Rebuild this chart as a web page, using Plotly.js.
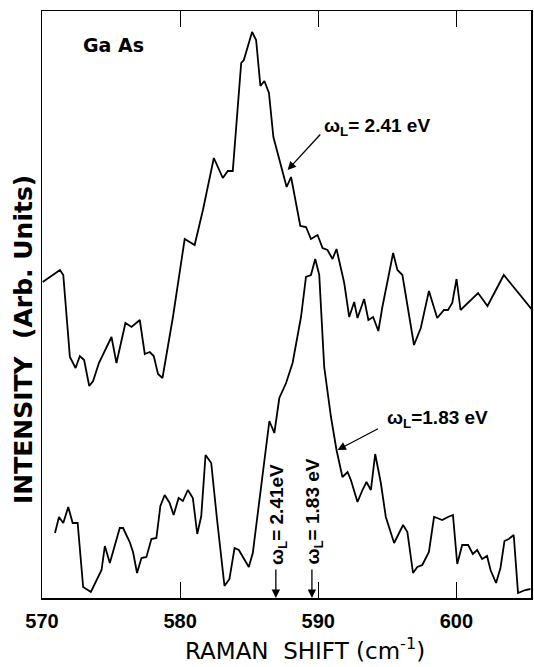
<!DOCTYPE html>
<html>
<head>
<meta charset="utf-8">
<script src="https://cdn.plot.ly/plotly-3.0.1.min.js"></script>
<style>html,body{margin:0;padding:0;background:#fff;}#chart{width:534px;height:667px;}</style>
</head>
<body>
<div id="chart"></div>
<script>
// Upper spectrum, laser 2.41 eV
const shiftUpper = [570.05,571.30,571.54,572.02,572.43,572.74,573.05,573.42,573.70,574.12,575.03,575.39,576.04,576.48,577.08,577.44,577.80,578.09,578.40,578.72,579.48,579.73,580.20,580.33,581.05,581.65,582.44,583.09,583.45,583.81,584.42,584.61,585.21,585.50,585.81,586.10,586.43,586.75,587.71,588.03,588.70,589.11,589.47,589.95,590.31,590.67,591.03,591.32,591.88,592.24,592.60,592.84,593.32,593.63,593.97,594.35,594.64,595.42,595.73,596.09,596.93,597.42,598.01,598.61,599.10,599.39,599.70,600.01,600.30,601.57,602.25,603.43,605.43];
const intUpper = [316,328,323,241,230,242,238,212,217,235,261,235,275,271,278,244,246,242,224,220,281,303,348,359,353,388,440,420,427,427,535,538,566,558,512,517,505,461,411,421,372,371,359,363,350,348,339,349,315,281,296,280,299,278,281,267,291,345,328,323,253,270,307,280,288,288,295,319,288,305,292,323,289];
// Lower spectrum, laser 1.83 eV
const shiftLower = [570.94,571.23,571.54,571.90,572.22,572.58,572.98,573.54,574.31,574.55,574.91,575.63,575.87,576.35,576.59,576.88,577.20,577.56,577.92,578.28,578.57,578.88,579.24,579.53,579.89,580.20,580.56,580.92,581.24,581.53,581.84,582.25,582.66,583.21,583.57,583.94,584.25,584.97,585.26,586.46,586.82,587.18,587.67,588.14,588.75,589.11,589.47,589.78,590.07,590.43,590.92,591.32,591.75,592.12,592.36,592.84,593.20,593.49,593.81,594.12,594.53,594.89,595.49,596.14,596.45,596.86,597.17,597.53,598.01,598.38,598.61,598.97,599.39,599.75,600.06,600.42,600.85,601.19,601.50,601.86,602.22,602.47,602.87,603.19,603.48,603.79,604.15,604.46,604.99,605.36];
const intLower = [65,81,75,91,75,75,11,6,28,52,35,70,70,56,46,25,40,41,59,60,92,103,95,83,100,97,108,100,64,82,143,135,80,12,19,50,48,31,45,177,165,200,215,235,281,321,323,339,323,231,181,148,121,126,118,96,108,116,108,144,115,81,55,73,66,25,31,33,46,81,80,78,81,83,34,53,53,44,48,39,42,28,15,30,57,59,63,5,8,9];
const xTicks = [570,580,590,600];
const xTickText = ['570','580','590','600'];
const laserMarks = [586.93, 589.54];
const laserLabels = ['ω<sub>L</sub>= 2.41eV', 'ω<sub>L</sub>= 1.83 eV'];
const curveLabels = ['ω<sub>L</sub>= 2.41 eV', 'ω<sub>L</sub>=1.83 eV'];
const sampleLabel = 'Ga As';
const xTitle = 'RAMAN  SHIFT (cm<sup>-1</sup>)';
const yTitle = 'INTENSITY  (Arb. Units)';

const fontLib = 'Liberation Sans, Arial, sans-serif';
const fontDV = 'DejaVu Sans, sans-serif';
const black = '#000';
const traces = [
  {x: shiftUpper, y: intUpper, mode: 'lines', line: {color: black, width: 1.8}, hoverinfo: 'skip'},
  {x: shiftLower, y: intLower, mode: 'lines', line: {color: black, width: 1.8}, hoverinfo: 'skip'}
];
const arrowStyle = {showarrow: true, arrowhead: 2, arrowsize: 1.3, arrowwidth: 1.3, arrowcolor: black, text: ''};
const annotations = [
  {x: 0.147, y: 0.942, xref: 'paper', yref: 'paper', text: '<b>' + sampleLabel + '</b>', showarrow: false, font: {family: fontDV, size: 19, color: black}, xanchor: 'center', yanchor: 'middle'},
  // curve label arrows
  Object.assign({x: 587.78, y: 428, xref: 'x', yref: 'y', ax: 34, ay: -37}, arrowStyle),
  {x: 590.29, y: 471, xref: 'x', yref: 'y', text: '<b>' + curveLabels[0] + '</b>', showarrow: false, xanchor: 'left', yanchor: 'middle', font: {family: fontLib, size: 19, color: black}},
  Object.assign({x: 591.39, y: 148, xref: 'x', yref: 'y', ax: 42, ay: -22}, arrowStyle),
  {x: 594.85, y: 179, xref: 'x', yref: 'y', text: '<b>' + curveLabels[1] + '</b>', showarrow: false, xanchor: 'left', yanchor: 'middle', font: {family: fontLib, size: 19, color: black}},
  // axis titles
  {x: 0.538, y: -0.087, xref: 'paper', yref: 'paper', text: xTitle, showarrow: false, xanchor: 'center', yanchor: 'middle', font: {family: fontDV, size: 23, color: black}},
  {x: -0.039, y: 0.441, xref: 'paper', yref: 'paper', text: '<b>' + yTitle + '</b>', textangle: -90, showarrow: false, xanchor: 'center', yanchor: 'middle', font: {family: fontDV, size: 25, color: black}}
];
laserMarks.forEach((m, i) => {
  annotations.push(Object.assign({x: m, y: 0, xref: 'x', yref: 'y', ax: 0, ay: -30}, arrowStyle));
  annotations.push({x: m + 0.12, y: 31, xref: 'x', yref: 'y', text: '<b>' + laserLabels[i] + '</b>', textangle: -90, showarrow: false, xanchor: 'center', yanchor: 'bottom', font: {family: fontLib, size: 19, color: black}});
});

const layout = {
  width: 534, height: 667,
  margin: {l: 42, r: 3, t: 11, b: 69},
  paper_bgcolor: '#fff', plot_bgcolor: '#fff',
  showlegend: false,
  xaxis: {
    range: [570, 605.4], tickvals: xTicks, ticktext: xTickText.map(t => '<b>' + t + '</b>'),
    ticks: 'inside', ticklen: 16, tickwidth: 1.2, tickcolor: black,
    showline: true, linecolor: black, linewidth: 1.5, mirror: 'ticks',
    showgrid: false, zeroline: false, ticklabelstandoff: 4,
    tickfont: {family: fontLib, size: 20, color: black}
  },
  yaxis: {
    range: [0, 587], showticklabels: false, ticks: '',
    showline: true, linecolor: black, linewidth: 1.5, mirror: true,
    showgrid: false, zeroline: false
  },
  annotations: annotations
};
Plotly.newPlot('chart', traces, layout, {staticPlot: true, displayModeBar: false});
</script>
</body>
</html>
